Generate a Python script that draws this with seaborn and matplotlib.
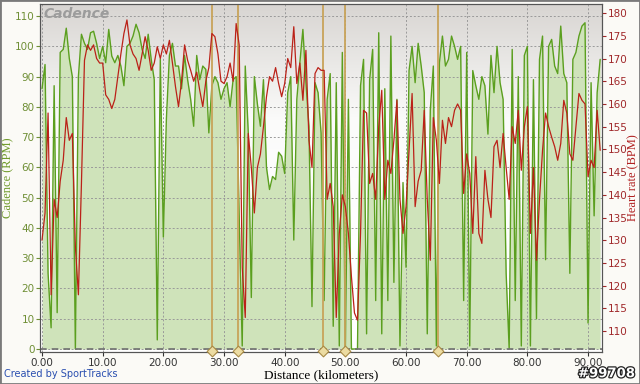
import numpy as np
import pandas as pd
import matplotlib
matplotlib.use("Agg")
import matplotlib.pyplot as plt
import matplotlib.patheffects as pe
from matplotlib.colors import LinearSegmentedColormap
from matplotlib.patches import Rectangle
from matplotlib.transforms import blended_transform_factory
import seaborn as sns

# %% data (one sample every 0.5 km)
distance_km = np.arange(0, 92.5, 0.5)

cadence_rpm = [
    86, 94, 25, 7, 87, 12, 98, 99, 106, 96,
    90, 0, 90, 104, 101, 99, 104.5, 105, 101, 96,
    100, 94.6, 105.6, 96.8, 94.6, 97, 93.5, 87, 100, 101,
    103.4, 107.3, 104.5, 99, 96, 104, 95.7, 89, 3, 95.7,
    37, 76, 97, 101, 93.5, 93.5,
    86, 97, 89, 82.5, 73.6, 97, 89, 93.5, 92.4, 71.4,
    87, 90, 88, 82.5, 86, 88, 80, 89, 90, 44,
    1, 93.5, 71.4, 17, 90, 81, 73.6, 89, 60, 52.7,
    57, 56, 65, 63.7, 58, 84.7, 90, 36, 82.5, 94.6,
    105.6, 88, 73.6, 14, 88, 84.7, 71.4,
    16, 82.5, 91, 7.5, 88, 1, 98, 0, 82.5, 0,
    0, 0, 87, 95.7, 5, 89, 99, 16, 104.5, 5,
    86, 16, 103.4, 22, 82.5, 1, 55, 27, 92, 100,
    88, 101, 93.5, 84.7, 5, 79, 93.5, 1, 94.6, 103.4,
    93.5, 95.7, 103.4, 100, 95.7, 100,
    16, 98, 1, 92, 87, 82.5, 90, 87, 71, 97,
    84.7, 100, 88, 82.5, 25, 0, 99, 16, 90, 1,
    97, 100, 1, 89, 10, 95.7, 103.4, 29.5, 100, 102.3,
    93.5, 91, 106.7, 91, 88, 25, 95.7, 98, 103.4, 106.7,
    107.8, 8.6, 88, 44, 84.7, 95.7,
]

heart_rate_bpm = [
    130, 136, 158, 118, 139, 135, 143, 147.6, 157, 152,
    153.5, 128.6, 118, 142.5, 169.6, 173, 171.8, 173, 170, 169,
    169, 162, 161, 159, 161, 166, 171, 175.5, 178.5, 173,
    171, 170, 167.4, 171, 174.8, 171.8, 167.4, 169, 172.6, 170,
    173, 171, 174, 169, 163.8, 159.4,
    165, 173, 169.6, 167.4, 165, 167, 163, 159.4, 165, 168,
    175.5, 174.8, 171, 165, 164.5, 166, 169, 165, 177.7, 173,
    124, 113, 153.5, 146, 136, 146, 149, 155, 161.6, 166,
    165, 168, 164.5, 161.6, 164.5, 170, 168, 177, 164.5, 169,
    160.8, 171.8, 152, 146, 166.7, 168, 167.4,
    167.4, 139, 142.5, 137.4, 113, 131.5, 140, 137.4, 131.5, 122,
    114, 112.4, 131.5, 158.6, 158, 142.5, 144.7, 139, 155, 163,
    139, 147.6, 144.7, 152, 160.8, 139, 131.5, 137.4, 149.8, 162.3,
    137.4, 143, 145.4, 158.6, 139, 125.6, 157, 152, 142.5, 156.4,
    151.3, 157, 155, 158.6, 160, 158.6,
    140.3, 149, 144.7, 131.5, 148.4, 131.5, 129.3, 145.4, 139, 135,
    150.6, 152, 146, 153.5, 146, 139, 155, 151.3, 158.6, 145.4,
    155, 159.4, 131.5, 146, 125.6, 139, 149.8, 158, 155, 152.7,
    150.6, 147.6, 151.3, 160.8, 158, 149, 147.6, 155, 162.3, 160.8,
    160, 144, 147.6, 146, 158.6, 149.8,
]

lap_km = [28.0, 32.3, 46.3, 49.9, 65.2]
x_ticks = [0, 10, 20, 30, 40, 50, 60, 70, 80, 90]
cad_ticks = [0, 10, 20, 30, 40, 50, 60, 70, 80, 90, 100, 110]
hr_ticks = [110, 115, 120, 125, 130, 135, 140, 145, 150, 155, 160, 165, 170, 175, 180]

df = pd.DataFrame({"km": distance_km, "cadence": cadence_rpm, "hr": heart_rate_bpm})

# %% figure
sns.set_style("white")
fig = plt.figure(figsize=(6.4, 3.84), dpi=100, facecolor="#fbfaf6")
ax = fig.add_axes([40 / 640, 32 / 384, 562 / 640, 348 / 384])
ax.set_facecolor("white")

# grey to white gradient at top of plot
bg = LinearSegmentedColormap.from_list("bg", ["#ffffff", "#ffffff", "#fbfbfa", "#d8d5d2"])
grad = np.linspace(0, 1, 256).reshape(-1, 1)
ax.imshow(grad, extent=[0, 1, 0, 1], transform=ax.transAxes, origin="lower",
          cmap=bg, aspect="auto", zorder=0)

ax.fill_between(df.km, 0, df.cadence, color="#cfe3ba", lw=0, zorder=1)
sns.lineplot(data=df, x="km", y="cadence", ax=ax, color="#5b9f1f", lw=1, zorder=3)

for k in lap_km:
    ax.axvline(k, color="#c8a35a", lw=1.3, zorder=4)
ax.axhline(0, color="#707070", ls=(0, (4, 3)), lw=1.2, zorder=4)

ax.set_xlim(-0.33, 92.3)
ax.set_ylim(-1, 114)
ax.set_xticks(x_ticks)
ax.set_xticklabels([f"{v:.2f}" for v in x_ticks])
ax.set_yticks(cad_ticks)
ax.set_axisbelow(False)
ax.grid(True, color="#9a9a9a", ls=(0, (2, 2)), lw=0.7)
ax.tick_params(axis="x", colors="#333333", labelsize=7.5, length=3, pad=1, bottom=True)
ax.tick_params(axis="y", colors="#6f8f35", labelsize=7.5, length=3, pad=1, left=True)
ax.set_xlabel("Distance (kilometers)", family="Liberation Serif", fontsize=9.5, color="black", labelpad=1)
ax.set_ylabel("Cadence (RPM)", family="Liberation Serif", fontsize=9, color="#6f9a2a", labelpad=1)
for s in ax.spines.values():
    s.set_color("#555555")
    s.set_linewidth(0.8)

ax.text(0.006, 0.99, "Cadence", transform=ax.transAxes, ha="left", va="top",
        fontsize=10, fontstyle="italic", fontweight="bold", color="#9c9c9c", zorder=6)

# heart rate on right axis
ax2 = ax.twinx()
sns.lineplot(data=df, x="km", y="hr", ax=ax2, color="#bb2118", lw=0.9)
ax2.set_ylim(105.4, 182)
ax2.set_yticks(hr_ticks)
ax2.grid(False)
ax2.tick_params(axis="y", colors="#a0282a", labelsize=7.5, length=3, pad=1, right=True)
ax2.set_ylabel("Heart rate (BPM)", family="Liberation Serif", fontsize=9, color="#b02020", labelpad=0)
for s in ax2.spines.values():
    s.set_color("#555555")
    s.set_linewidth(0.8)

# lap diamonds on the bottom axis
tr = blended_transform_factory(ax2.transData, ax2.transAxes)
ax2.scatter(lap_km, [0.003] * len(lap_km), transform=tr, marker="D", s=30,
            color="#ecdca2", edgecolor="#a88a45", lw=0.8, zorder=7, clip_on=False)

fig.text(0.006, 0.012, "Created by SportTracks", color="#2a4fb0", fontsize=7, ha="left", va="bottom")
fig.text(0.992, 0.01, "#99708", color="white", fontsize=9.5, fontweight="bold", ha="right", va="bottom",
         path_effects=[pe.withStroke(linewidth=1.8, foreground="#222222")])

fig.patches.append(Rectangle((0, 0), 1, 1, transform=fig.transFigure, fill=False,
                             edgecolor="#7a7a7a", lw=2))

fig.savefig("out.png", dpi=100, facecolor=fig.get_facecolor())
